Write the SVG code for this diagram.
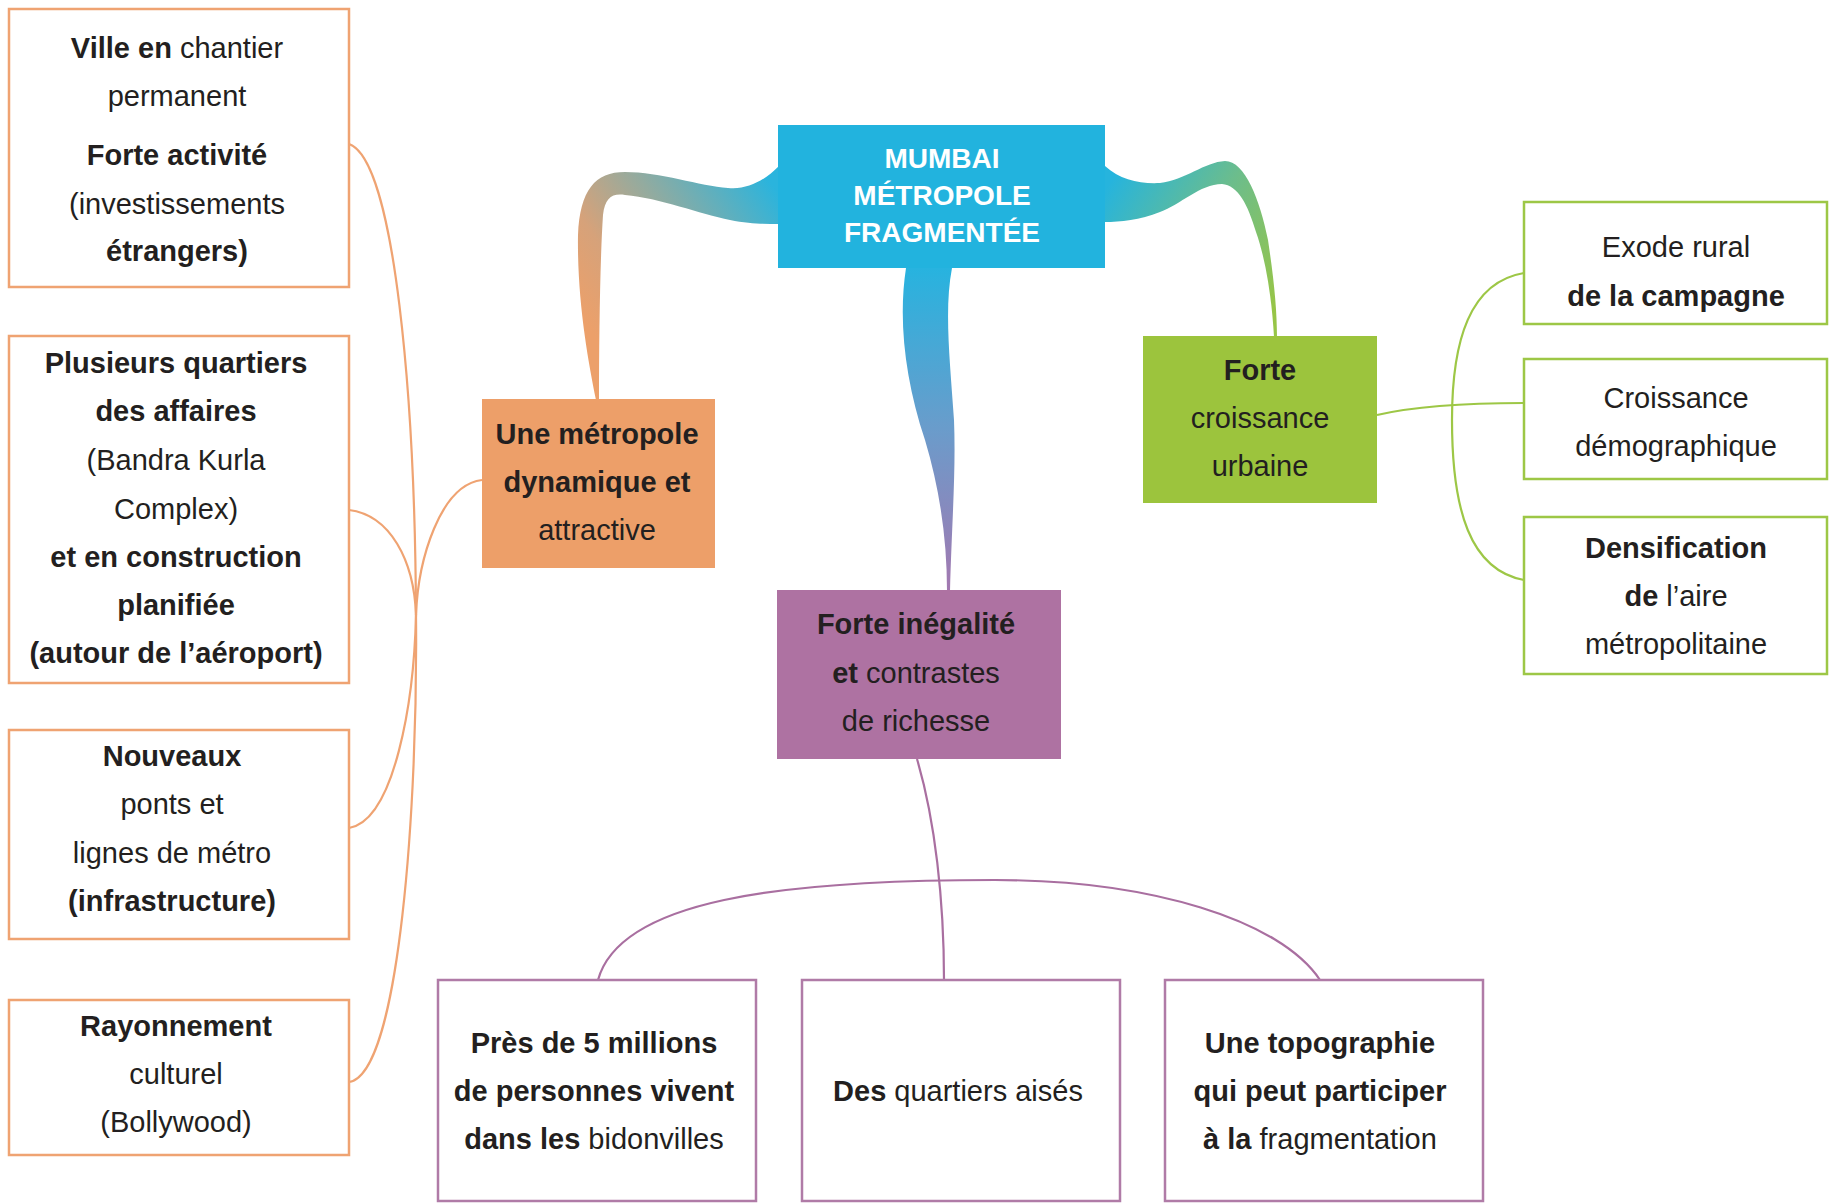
<svg xmlns="http://www.w3.org/2000/svg" width="1835" height="1204" viewBox="0 0 1835 1204">
<style>
text{font-family:"Liberation Sans",Arial,sans-serif;font-size:29px;fill:#231f20;text-anchor:middle}
.b{font-weight:bold}
.w{fill:#ffffff;font-weight:bold;font-size:28px}
.ob{fill:#ffffff;stroke:#efa372;stroke-width:2.5}
.gb{fill:#ffffff;stroke:#9dc746;stroke-width:2.5}
.pb{fill:#ffffff;stroke:#b07ba7;stroke-width:2.5}
.oc{fill:none;stroke:#efa372;stroke-width:2.2}
.gc{fill:none;stroke:#9dc746;stroke-width:2.2}
.pc{fill:none;stroke:#a96fa0;stroke-width:2.2}
</style>
<defs>
<linearGradient id="gl" gradientUnits="userSpaceOnUse" x1="780" y1="195" x2="590" y2="330">
<stop offset="0" stop-color="#2ab4dd"/>
<stop offset="0.45" stop-color="#93ab9f"/>
<stop offset="0.75" stop-color="#d6a27a"/>
<stop offset="1" stop-color="#eca06a"/>
</linearGradient>
<linearGradient id="gr" gradientUnits="userSpaceOnUse" x1="1105" y1="190" x2="1280" y2="300">
<stop offset="0" stop-color="#26b4dd"/>
<stop offset="0.5" stop-color="#6cbd8c"/>
<stop offset="1" stop-color="#97c547"/>
</linearGradient>
<linearGradient id="gc" gradientUnits="userSpaceOnUse" x1="0" y1="268" x2="0" y2="590">
<stop offset="0" stop-color="#27b3df"/>
<stop offset="0.5" stop-color="#6a9ccb"/>
<stop offset="1" stop-color="#a378b0"/>
</linearGradient>
</defs>

<g id="connectors">
<path d="M779,166 C765,180 748,190 728,188 C700,186 660,172 625,172 C595,172 580,190 578,235 C577,300 588,360 596,400 L599,400 C599,340 600,260 603,215 C605,198 612,193 625,195 C660,198 700,214 730,220 C750,224 765,224 779,224 Z" fill="url(#gl)"/>
<path d="M1105,166 C1120,180 1140,184 1160,183 C1185,180 1205,162 1225,161 C1245,161 1260,200 1268,240 C1274,280 1277,310 1277,337 L1274,337 C1272,300 1266,260 1256,232 C1248,205 1238,185 1222,184 C1200,184 1180,205 1160,212 C1140,220 1120,222 1105,222 Z" fill="url(#gr)"/>
<path d="M906,268 C898,320 905,380 925,440 C940,490 947,540 947,591 L950,591 C952,520 956,470 954,420 C950,360 944,310 952,268 Z" fill="url(#gc)"/>
<path class="oc" d="M349,144 C395,160 415,400 416,615"/>
<path class="oc" d="M349,510 C390,515 414,560 416,615"/>
<path class="oc" d="M482,480 C440,485 418,560 416,615"/>
<path class="oc" d="M349,828 C395,820 414,700 416,615"/>
<path class="oc" d="M349,1082 C400,1075 418,800 416,615"/>
<path class="gc" d="M1377,415 C1420,405 1470,403 1524,403"/>
<path class="gc" d="M1524,273 C1470,282 1452,340 1452,420 C1452,510 1470,570 1524,580"/>
<path class="pc" d="M917,759 C935,820 944,900 944,980"/>
<path class="pc" d="M598,980 C620,900 780,880 995,880 C1150,880 1280,920 1320,980"/>
</g>

<g id="n-center">
<rect x="778" y="125" width="327" height="143" fill="#22b3de"/>
<text class="w" x="942" y="168">MUMBAI</text>
<text class="w" x="942" y="205">MÉTROPOLE</text>
<text class="w" x="942" y="242">FRAGMENTÉE</text>
</g>

<g id="n-metropole">
<rect x="482" y="399" width="233" height="169" fill="#ed9f69"/>
<text class="b" x="597" y="444">Une métropole</text>
<text class="b" x="597" y="492">dynamique et</text>
<text x="597" y="540">attractive</text>
</g>

<g id="n-croissance">
<rect x="1143" y="336" width="234" height="167" fill="#9cc43d"/>
<text class="b" x="1260" y="380">Forte</text>
<text x="1260" y="428">croissance</text>
<text x="1260" y="476">urbaine</text>
</g>

<g id="n-inegalite">
<rect x="777" y="590" width="284" height="169" fill="#ae72a2"/>
<text class="b" x="916" y="634">Forte inégalité</text>
<text x="916" y="683"><tspan class="b">et</tspan> contrastes</text>
<text x="916" y="731">de richesse</text>
</g>

<g id="n-chantier">
<rect class="ob" x="9" y="9" width="340" height="278"/>
<text x="177" y="58"><tspan class="b">Ville en</tspan> chantier</text>
<text x="177" y="106">permanent</text>
<text class="b" x="177" y="165">Forte activité</text>
<text x="177" y="214">(investissements</text>
<text class="b" x="177" y="261">étrangers)</text>
</g>

<g id="n-affaires">
<rect class="ob" x="9" y="336" width="340" height="347"/>
<text class="b" x="176" y="373">Plusieurs quartiers</text>
<text class="b" x="176" y="421">des affaires</text>
<text x="176" y="470">(Bandra Kurla</text>
<text x="176" y="519">Complex)</text>
<text class="b" x="176" y="567">et en construction</text>
<text class="b" x="176" y="615">planifiée</text>
<text class="b" x="176" y="663">(autour de l’aéroport)</text>
</g>

<g id="n-infra">
<rect class="ob" x="9" y="730" width="340" height="209"/>
<text class="b" x="172" y="766">Nouveaux</text>
<text x="172" y="814">ponts et</text>
<text x="172" y="863">lignes de métro</text>
<text class="b" x="172" y="911">(infrastructure)</text>
</g>

<g id="n-bollywood">
<rect class="ob" x="9" y="1000" width="340" height="155"/>
<text class="b" x="176" y="1036">Rayonnement</text>
<text x="176" y="1084">culturel</text>
<text x="176" y="1132">(Bollywood)</text>
</g>

<g id="n-exode">
<rect class="gb" x="1524" y="202" width="303" height="122"/>
<text x="1676" y="257">Exode rural</text>
<text class="b" x="1676" y="306">de la campagne</text>
</g>

<g id="n-demo">
<rect class="gb" x="1524" y="359" width="303" height="120"/>
<text x="1676" y="408">Croissance</text>
<text x="1676" y="456">démographique</text>
</g>

<g id="n-densification">
<rect class="gb" x="1524" y="517" width="303" height="157"/>
<text class="b" x="1676" y="558">Densification</text>
<text x="1676" y="606"><tspan class="b">de</tspan> l’aire</text>
<text x="1676" y="654">métropolitaine</text>
</g>

<g id="n-bidonvilles">
<rect class="pb" x="438" y="980" width="318" height="221"/>
<text class="b" x="594" y="1053">Près de 5 millions</text>
<text class="b" x="594" y="1101">de personnes vivent</text>
<text x="594" y="1149"><tspan class="b">dans les</tspan> bidonvilles</text>
</g>

<g id="n-aises">
<rect class="pb" x="802" y="980" width="318" height="221"/>
<text x="958" y="1101"><tspan class="b">Des</tspan> quartiers aisés</text>
</g>

<g id="n-topo">
<rect class="pb" x="1165" y="980" width="318" height="221"/>
<text class="b" x="1320" y="1053">Une topographie</text>
<text class="b" x="1320" y="1101">qui peut participer</text>
<text x="1320" y="1149"><tspan class="b">à la</tspan> fragmentation</text>
</g>
</svg>
